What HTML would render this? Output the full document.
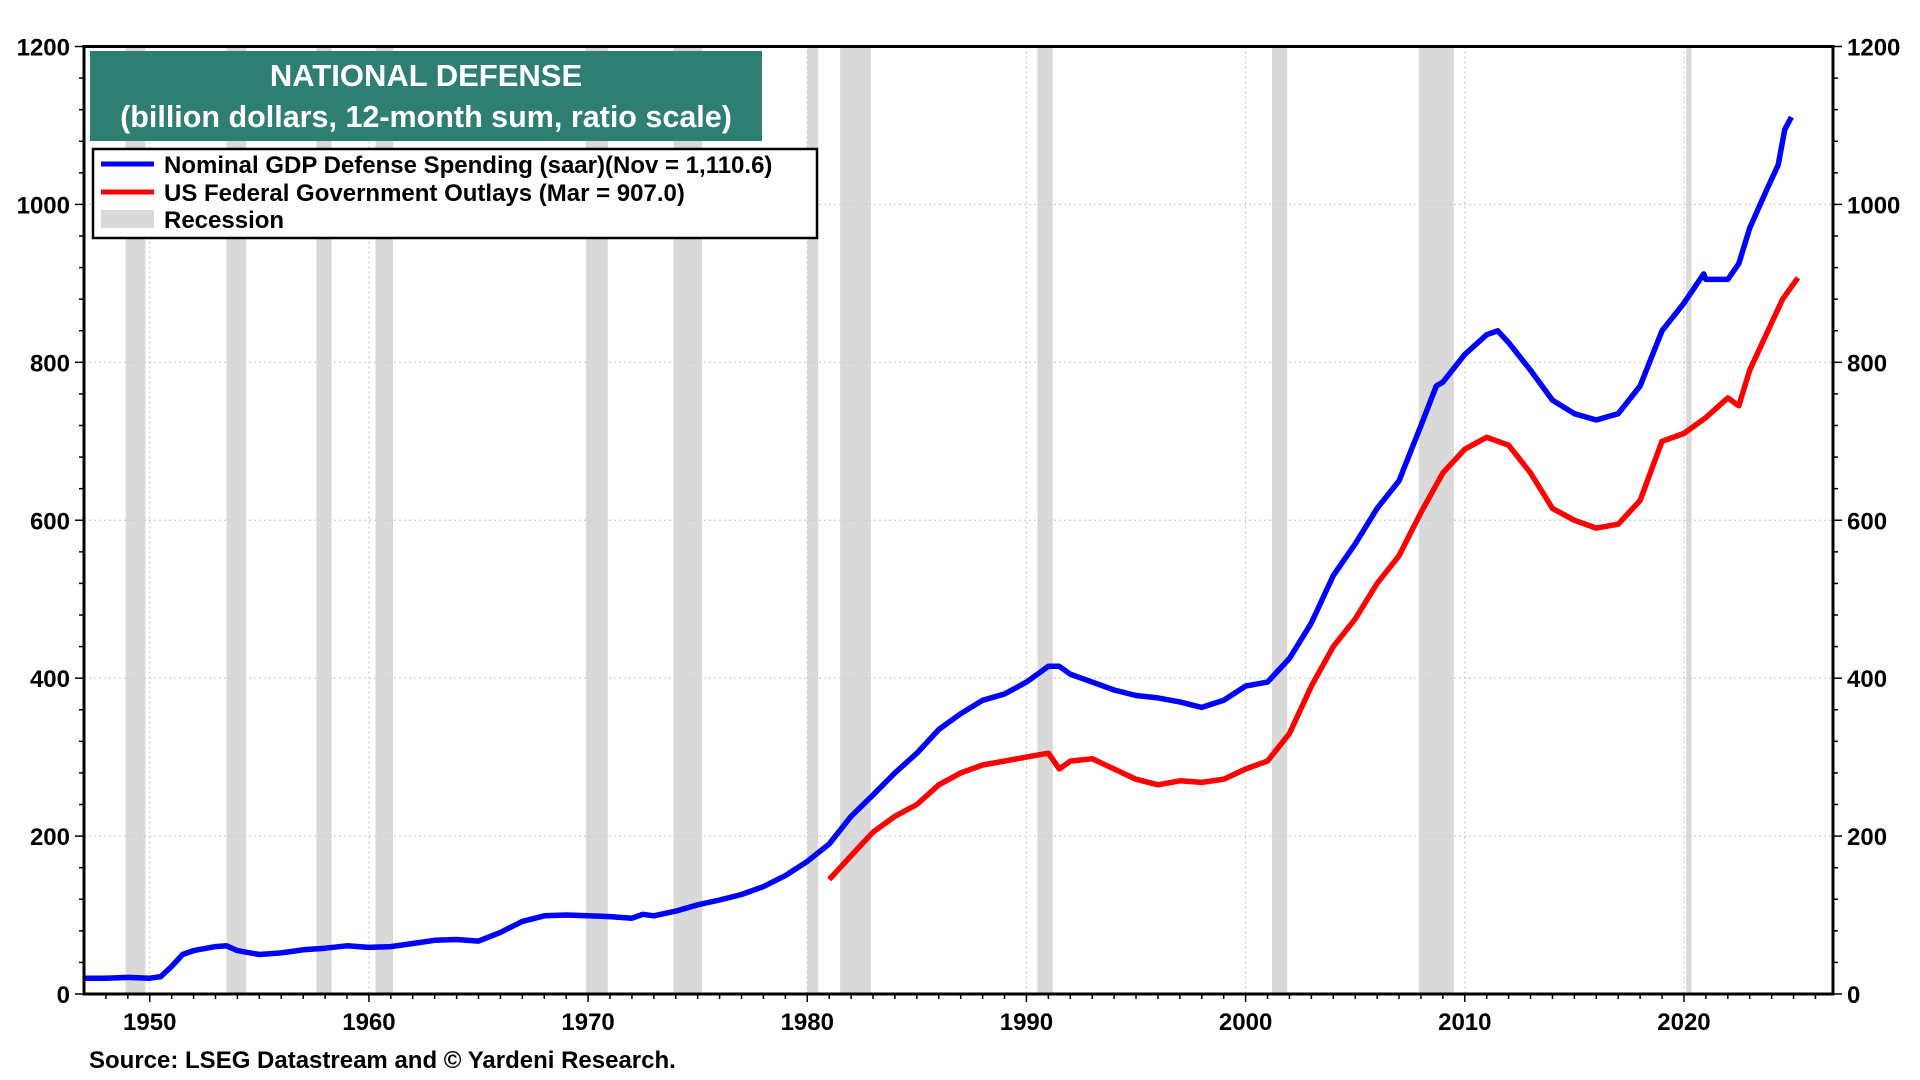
<!DOCTYPE html>
<html><head><meta charset="utf-8">
<style>
html,body{margin:0;padding:0;background:#fff;}
svg{display:block;font-family:"Liberation Sans",Arial,sans-serif;font-weight:bold;}
</style></head>
<body>
<svg id="chart" width="1920" height="1080" viewBox="0 0 1920 1080">
<g id="rec"></g>
<g id="grid"></g>
<g id="series"></g>
<g id="axes"></g>
<rect x="90" y="51" width="672" height="90" fill="#2e7f72"/>
<text x="426" y="86" text-anchor="middle" font-size="31" fill="#fff">NATIONAL DEFENSE</text>
<text x="426" y="127" text-anchor="middle" font-size="30.5" fill="#fff">(billion dollars, 12-month sum, ratio scale)</text>
<g>
<rect x="93" y="149" width="724" height="89" fill="#fff" stroke="#000" stroke-width="2.5"/>
<line x1="101" y1="164" x2="154" y2="164" stroke="#0000ff" stroke-width="5"/>
<text x="164" y="173" font-size="24">Nominal GDP Defense Spending (saar)(Nov = 1,110.6)</text>
<line x1="101" y1="192" x2="154" y2="192" stroke="#ff0000" stroke-width="5"/>
<text x="164" y="201" font-size="24">US Federal Government Outlays (Mar = 907.0)</text>
<rect x="101" y="210" width="53" height="18" fill="#d9d9d9"/>
<text x="164" y="228" font-size="24">Recession</text>
</g>
<text x="89" y="1068" font-size="24">Source: LSEG Datastream and © Yardeni Research.</text>
</svg>
<script>
const yTicks=[0,200,400,600,800,1000,1200];
const xTickYears=[1950,1960,1970,1980,1990,2000,2010,2020];
const recStart=[1948.9,1953.5,1957.6,1960.3,1969.9,1973.9,1980.0,1981.5,1990.5,2001.2,2007.9,2020.1];
const recEnd=[1949.8,1954.4,1958.3,1961.1,1970.9,1975.2,1980.5,1982.9,1991.2,2001.9,2009.5,2020.35];
const defYears=[1947,1948,1949,1950,1950.5,1951,1951.5,1952,1953,1953.5,1954,1955,1956,1957,1958,1959,1960,1961,1962,1963,1964,1965,1966,1967,1968,1969,1970,1971,1972,1972.5,1973,1974,1975,1976,1977,1978,1979,1980,1981,1982,1983,1984,1985,1986,1987,1988,1989,1990,1991,1991.5,1992,1993,1994,1995,1996,1997,1998,1999,2000,2001,2002,2003,2004,2005,2006,2007,2008,2008.7,2009,2010,2011,2011.5,2012,2013,2014,2015,2016,2017,2018,2019,2020,2020.9,2021,2022,2022.5,2023,2023.8,2024.3,2024.6,2024.9];
const defVals=[20,20,21,20,22,35,50,55,60,61,55,50,52,56,58,61,59,60,64,68,69,67,78,92,99,100,99,98,96,101,99,105,113,119,126,136,150,168,190,225,252,280,305,335,355,372,380,395,415,415,405,395,385,378,375,370,363,372,390,395,425,470,530,570,615,650,720,770,775,810,835,840,825,790,752,735,727,735,770,840,875,912,905,905,925,970,1020,1050,1095,1110.6];
const outYears=[1981,1982,1983,1984,1985,1986,1987,1988,1989,1990,1991,1991.5,1992,1993,1994,1995,1996,1997,1998,1999,2000,2001,2002,2003,2004,2005,2006,2007,2008,2009,2010,2011,2012,2013,2014,2015,2016,2017,2018,2019,2020,2021,2022,2022.5,2023,2024,2024.5,2025.2];
const outVals=[145,175,205,225,240,265,280,290,295,300,305,285,295,298,285,272,265,270,268,272,285,295,330,390,440,475,520,555,610,660,690,705,695,660,615,600,590,595,625,700,710,730,755,745,790,850,880,907];

const L=84,R=1833,T=46.5,B=994,X0=1947,X1=2026.8;
const xS=v=>L+(v-X0)/(X1-X0)*(R-L);
const yS=v=>B-v/1200*(B-T);
const NS="http://www.w3.org/2000/svg";
function mk(tag,attrs,parent){const e=document.createElementNS(NS,tag);for(const k in attrs)e.setAttribute(k,attrs[k]);parent.appendChild(e);return e;}
const rec=document.getElementById('rec'),grid=document.getElementById('grid'),ser=document.getElementById('series'),ax=document.getElementById('axes');
recStart.forEach((s,i)=>{
  const r=mk('rect',{x:xS(s),y:T,width:xS(recEnd[i])-xS(s),height:B-T,fill:'#d9d9d9'},rec);
  
  
});
yTicks.forEach(v=>{
  if(v>0&&v<1200){const g=mk('line',{x1:L,x2:R,y1:yS(v),y2:yS(v),stroke:'#ccc','stroke-width':1.2,'stroke-dasharray':'2,3'},grid);
  
  }
  const t1=mk('text',{x:L-14,y:yS(v)+9,'text-anchor':'end','font-size':24},ax);t1.textContent=v;
  
  
  const t2=mk('text',{x:R+14,y:yS(v)+9,'text-anchor':'start','font-size':24},ax);t2.textContent=v;
  
  
});
for(let v=0;v<=1200;v+=40){
  const major=v%200===0,len=major?9:5;
  mk('line',{x1:L-len,x2:L,y1:yS(v),y2:yS(v),stroke:'#000','stroke-width':1.5},ax);
  mk('line',{x1:R,x2:R+len,y1:yS(v),y2:yS(v),stroke:'#000','stroke-width':1.5},ax);
}
for(let y=1948;y<=2026;y++){
  const major=y%10===0;
  mk('line',{x1:xS(y),x2:xS(y),y1:B,y2:B+(major?8:5),stroke:'#000','stroke-width':1.5},ax);
}
xTickYears.forEach(y=>{
  const g=mk('line',{x1:xS(y),x2:xS(y),y1:T,y2:B,stroke:'#ccc','stroke-width':1.2,'stroke-dasharray':'2,3'},grid);
  
  
  const t=mk('text',{x:xS(y),y:B+36,'text-anchor':'middle','font-size':24},ax);t.textContent=y;
  
  
});
const frame=mk('rect',{x:L,y:T,width:R-L,height:B-T,fill:'none',stroke:'#000','stroke-width':3},ax);


function line(xs,vs,color,name){
  const d=xs.map((x,i)=>(i?'L':'M')+xS(x).toFixed(1)+','+yS(vs[i]).toFixed(1)).join('');
  const p=mk('path',{d:d,fill:'none',stroke:color,'stroke-width':5.5,'stroke-linejoin':'round'},ser);
  
  
}
line(outYears,outVals,'#ff0000','outlays-line');
line(defYears,defVals,'#0000ff','defense-spending-line');
</script>
</body></html>
